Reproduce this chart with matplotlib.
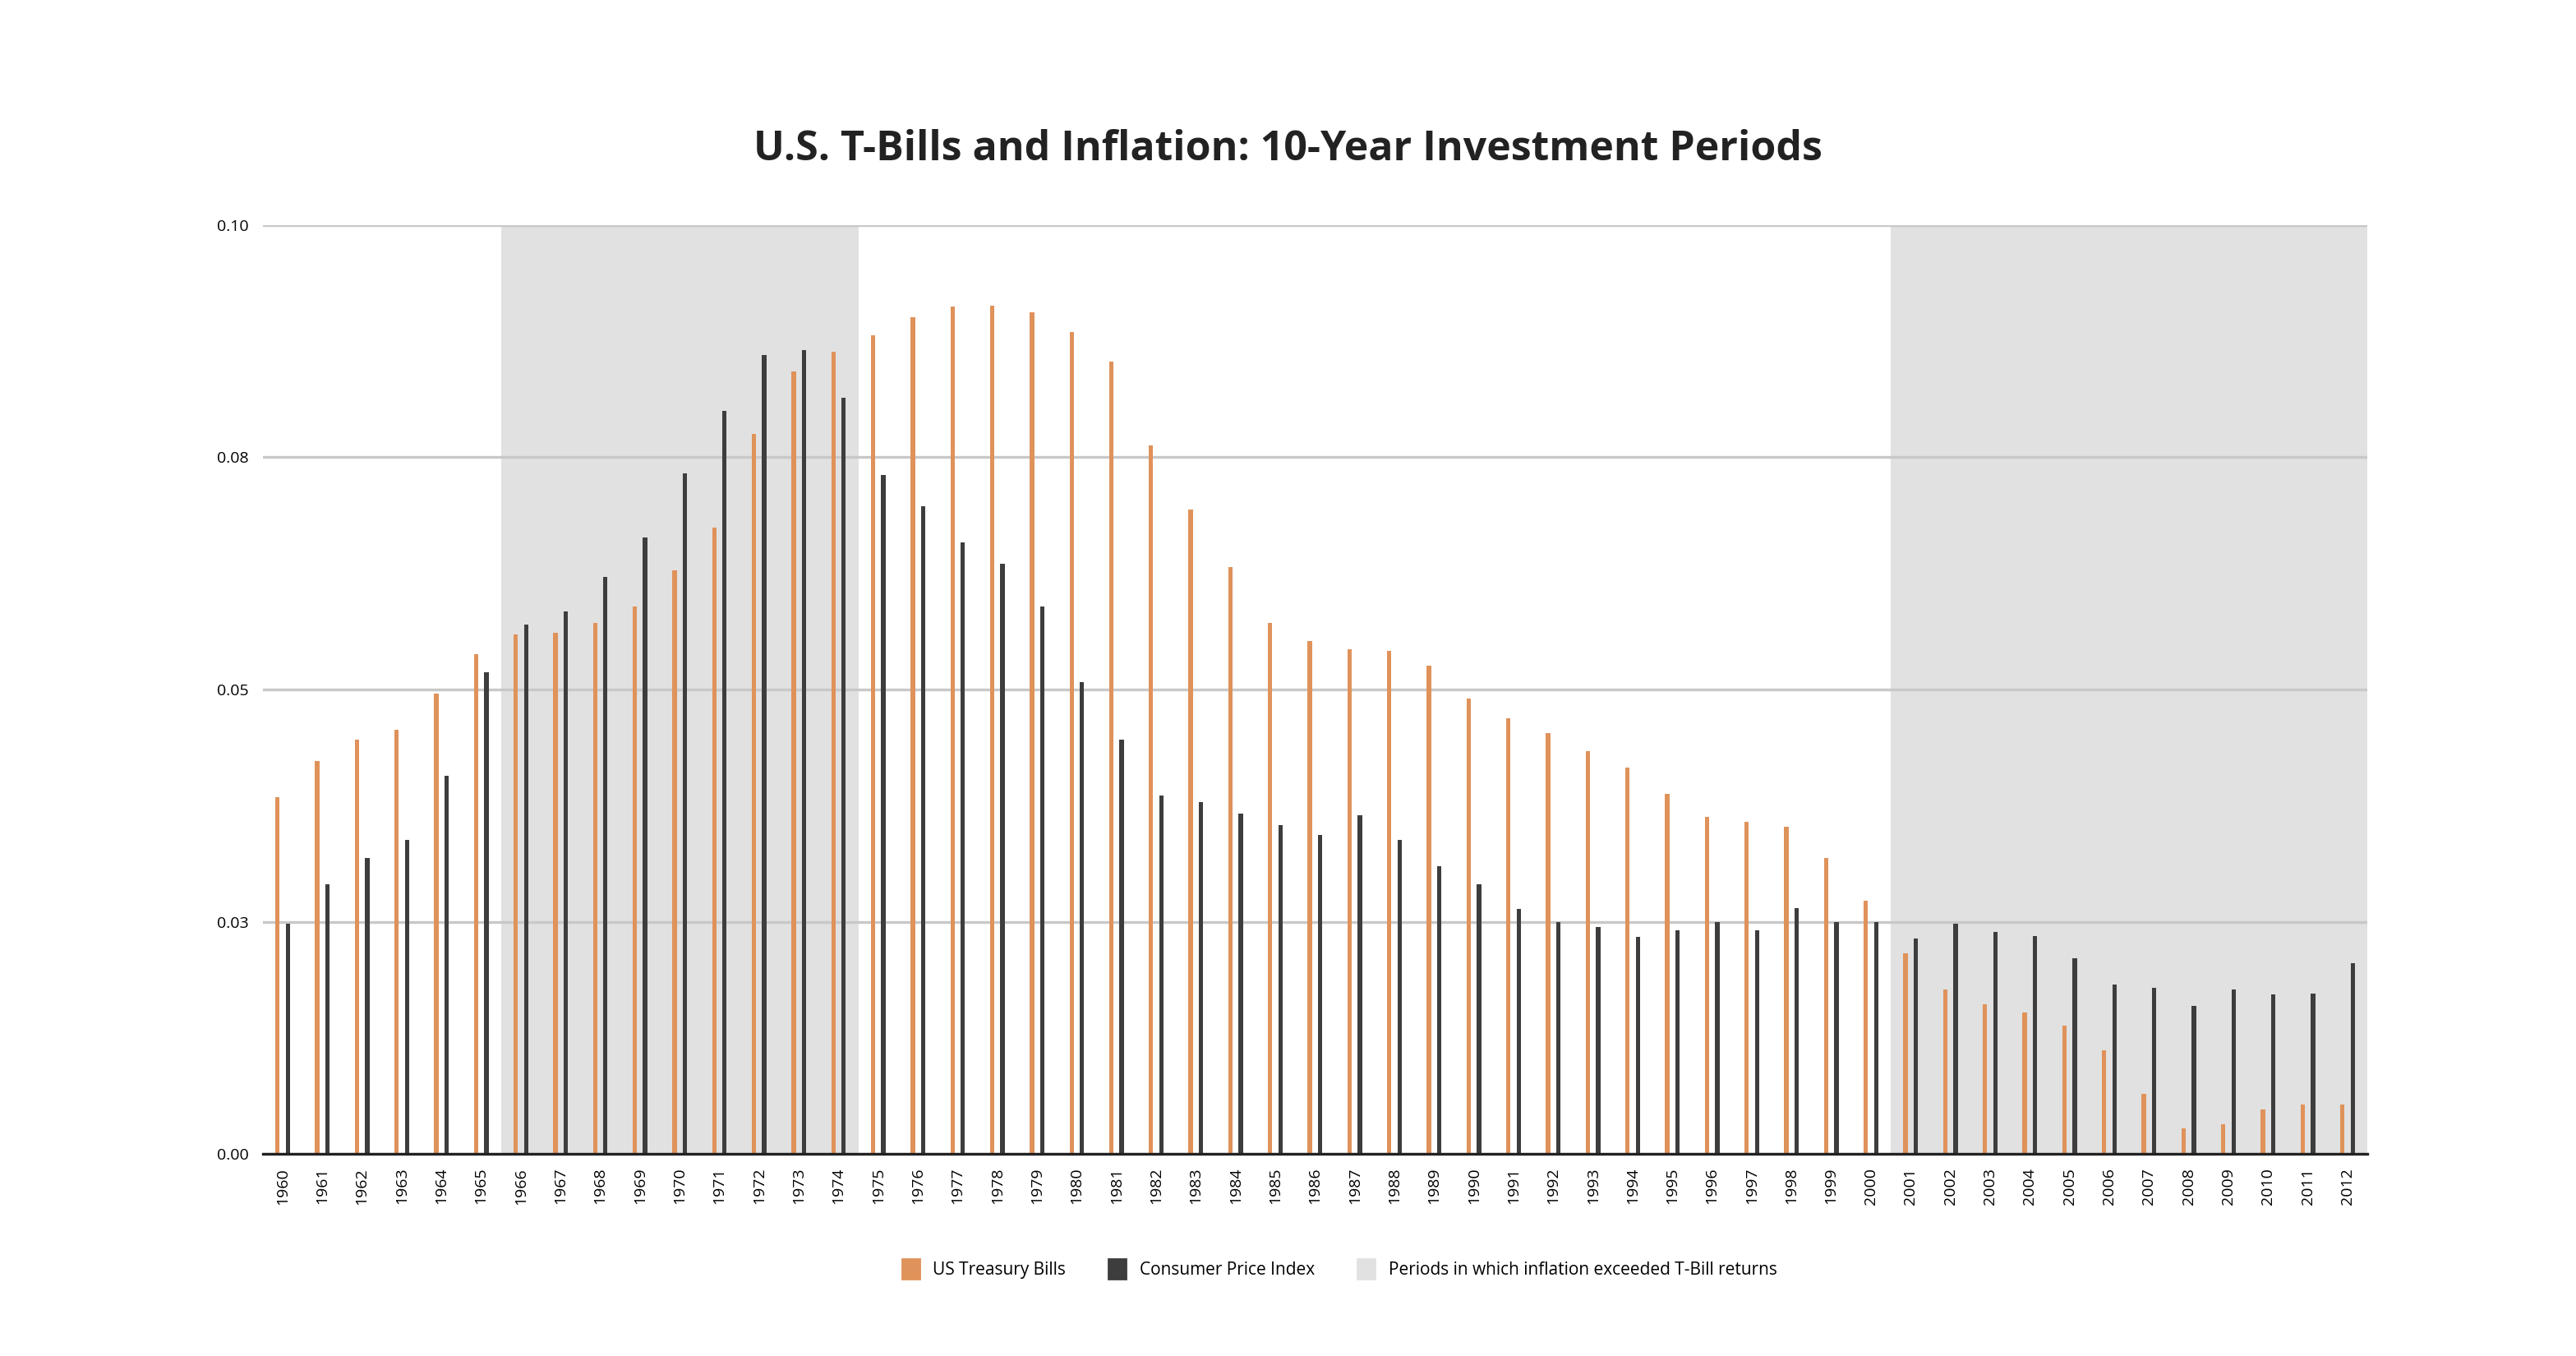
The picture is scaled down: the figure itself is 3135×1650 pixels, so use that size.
import numpy as np
import matplotlib.pyplot as plt
from matplotlib.patches import Patch

plt.rcParams['font.family'] = ['Open Sans', 'DejaVu Sans']

years = list(range(1960, 2013))
tbills = [0.0384, 0.0423, 0.0446, 0.0457, 0.0496, 0.0538, 0.0559, 0.0561, 0.0572, 0.0589,
          0.0628, 0.0674, 0.0775, 0.0842, 0.0864, 0.0881, 0.0901, 0.0912, 0.0913, 0.0906,
          0.0885, 0.0853, 0.0763, 0.0694, 0.0632, 0.0572, 0.0552, 0.0543, 0.0542, 0.0526,
          0.0490, 0.0469, 0.0453, 0.0434, 0.0416, 0.0388, 0.0363, 0.0358, 0.0352, 0.0319,
          0.0273, 0.0216, 0.0177, 0.0161, 0.0152, 0.0138, 0.0112, 0.0065, 0.0028, 0.0032,
          0.0048, 0.0053, 0.0053]
cpi = [0.0248, 0.0290, 0.0319, 0.0338, 0.0407, 0.0519, 0.0570, 0.0584, 0.0621, 0.0664,
       0.0733, 0.0800, 0.0860, 0.0865, 0.0814, 0.0731, 0.0697, 0.0658, 0.0635, 0.0589,
       0.0508, 0.0446, 0.0386, 0.0379, 0.0366, 0.0354, 0.0343, 0.0365, 0.0338, 0.0310,
       0.0290, 0.0264, 0.0250, 0.0244, 0.0234, 0.0241, 0.0250, 0.0241, 0.0265, 0.0250,
       0.0250, 0.0232, 0.0248, 0.0239, 0.0235, 0.0211, 0.0182, 0.0179, 0.0159, 0.0177,
       0.0172, 0.0173, 0.0205]
shaded = [(1966, 1974), (2001, 2012)]

orange = "#df925a"
dark = "#3d3d3d"
shade = "#e1e1e1"

fig = plt.figure(figsize=(15.675, 8.25), dpi=200)
ax = fig.add_axes([0.102, 0.149, 0.817, 0.685])

x = np.arange(len(years))
w = 0.11
for a, b in shaded:
    ax.axvspan(years.index(a) - 0.5, min(years.index(b) + 0.5, len(years) - 0.5),
               color=shade, lw=0, zorder=0)
ax.bar(x - 0.13, tbills, width=w, color=orange, zorder=3)
ax.bar(x + 0.13, cpi, width=w, color=dark, zorder=3)

ax.set_xlim(-0.5, len(years) - 0.5)
ax.set_ylim(0, 0.1)
ax.set_yticks([0, 0.025, 0.05, 0.075, 0.1])
ax.set_yticklabels(["0.00", "0.03", "0.05", "0.08", "0.10"], fontsize=7)
ax.set_xticks(x)
ax.set_xticklabels([str(y) for y in years], rotation=90, fontsize=7)
ax.tick_params(axis='both', length=0, pad=6)
ax.grid(axis='y', color='#c8c8c8', lw=1.2, zorder=1)
ax.set_axisbelow(True)
for s in ['left', 'right', 'top']:
    ax.spines[s].set_visible(False)
ax.spines['bottom'].set_color('#222222')
ax.spines['bottom'].set_linewidth(1.2)
ax.spines['bottom'].set_zorder(4)

fig.suptitle("U.S. T-Bills and Inflation: 10-Year Investment Periods",
             x=0.5, y=0.905, fontsize=18, fontweight='bold', color='#222222')

handles = [Patch(color=orange), Patch(color=dark), Patch(color=shade)]
labels = ["US Treasury Bills", "Consumer Price Index",
          "Periods in which inflation exceeded T-Bill returns"]
fig.legend(handles, labels, loc='center', bbox_to_anchor=(0.52, 0.064), ncol=3,
           frameon=False, fontsize=7.5, handlelength=1.0, handleheight=1.4,
           columnspacing=2.5)

plt.savefig("out.png", dpi=200)
